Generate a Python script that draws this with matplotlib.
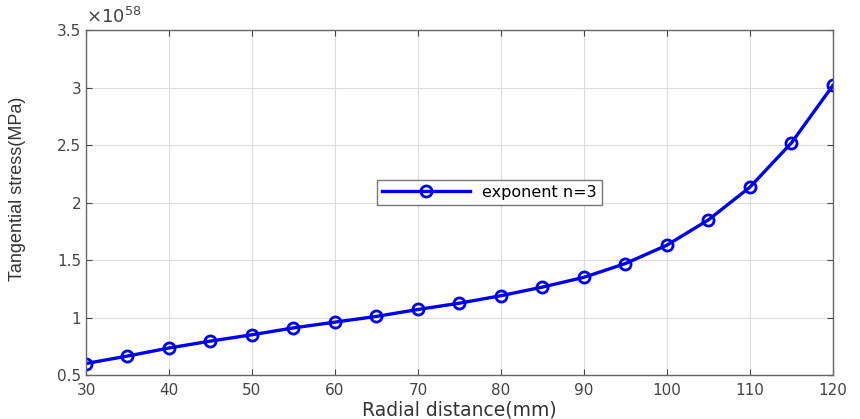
import matplotlib
matplotlib.use("Agg")
import matplotlib.pyplot as plt
from matplotlib.ticker import FuncFormatter

# radial distance (mm) and tangential stress coefficient (x 1e58 MPa)
radius = [30, 35, 40, 45, 50, 55, 60, 65, 70, 75, 80, 85, 90, 95, 100, 105, 110, 115, 120]
stress_coef = [0.60, 0.665, 0.735, 0.795, 0.85, 0.91, 0.96, 1.01, 1.07, 1.125, 1.19,
               1.265, 1.35, 1.47, 1.63, 1.85, 2.135, 2.52, 3.02]
scale = 1e58
stress = [v * scale for v in stress_coef]

plt.rcParams['font.family'] = ['DejaVu Sans']

fig = plt.figure(figsize=(8.6, 4.19), dpi=100)
ax = fig.add_axes([0.1, 0.105, 0.8686, 0.823])

ax.plot(radius, stress, color='#0000ee', lw=2.4, marker='o', ms=8,
        mfc='none', mec='#0000ee', mew=2, label='exponent n=3')

ax.set_xlim(30, 120)
ax.set_ylim(0.5 * scale, 3.5 * scale)
ax.set_xticks(range(30, 121, 10))
ax.set_yticks([v * scale for v in [0.5, 1, 1.5, 2, 2.5, 3, 3.5]])
ax.yaxis.set_major_formatter(FuncFormatter(lambda v, p: '%g' % round(v / scale, 2)))

ax.grid(True, color='#dddddd', lw=0.8)
ax.tick_params(direction='in', top=True, right=True, labelsize=11,
               colors='#444444', length=4)
ax.tick_params(axis='x', pad=6)
for s in ax.spines.values():
    s.set_color('#666666')
    s.set_linewidth(1.0)

ax.set_xlabel('Radial distance(mm)', fontsize=13.5, color='#333333')
ax.xaxis.set_label_coords(0.5, -0.075)
ax.set_ylabel('Tangential stress(MPa)', fontsize=13, color='#333333',
              family='Liberation Sans')
ax.yaxis.set_label_coords(-0.08, 0.54)
ax.text(0.0, 1.008, r'$\times\mathregular{10^{58}}$', transform=ax.transAxes,
        fontsize=13, color='#444444', va='bottom', ha='left')

leg = ax.legend(loc='center', bbox_to_anchor=(0.54, 0.53), fontsize=11.5,
                fancybox=False, framealpha=1, edgecolor='#777777',
                handlelength=5.5, borderpad=0.3, borderaxespad=0)
leg.get_frame().set_linewidth(1.0)

fig.savefig('out.png', dpi=100)
